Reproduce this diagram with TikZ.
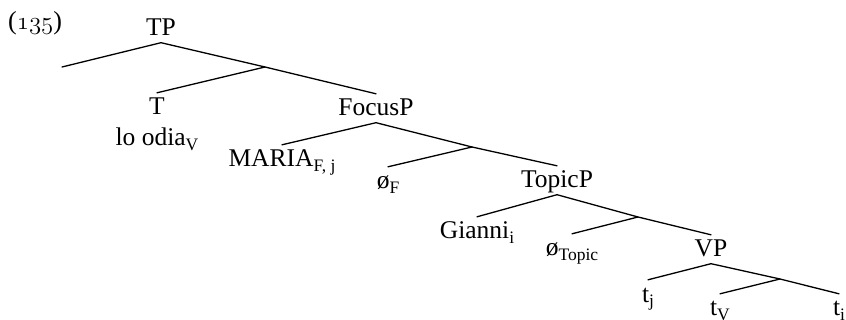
\documentclass[tikz,border=0pt]{standalone}
\usepackage{fontspec}
\setmainfont{Liberation Serif}
\newcommand\mysub[1]{\raisebox{-4.5pt}{\fontsize{17.5}{17.5}\selectfont #1}}
\newcommand\onums[1]{{\usefont{OML}{cmm}{m}{it}#1}}
\begin{document}
\begin{tikzpicture}[x=1pt,y=-1pt,
  every node/.style={font=\fontsize{25.5}{30}\selectfont},
  lbl/.style={anchor=base, inner xsep=1pt, inner ysep=6.5pt, text height=15.5pt, text depth=0pt},
  branch/.style={line width=1.3pt, line cap=round}]
\useasboundingbox (0,0) rectangle (846,320);
% example number
\node[anchor=base west, inner sep=0pt, font=\fontsize{26}{30}\selectfont] (ex) at (8,30) {(\onums{135})};
% nodes
\node[lbl] (TP) at (161,36) {TP};
\node[lbl] (T) at (157,115) {T};
\node[lbl] (odia) at (157,146) {lo odia\mysub{V}};
\node[lbl] (FocusP) at (376,116) {FocusP};
\node[lbl] (MARIA) at (282,167) {MARIA\mysub{F, j}};
\node[lbl] (oF) at (388,189) {ø\mysub{F}};
\node[lbl] (TopicP) at (557,188) {TopicP};
\node[lbl] (Gianni) at (477,239) {Gianni\mysub{i}};
\node[lbl] (oTopic) at (572,256) {ø\mysub{Topic}};
\node[lbl] (VP) at (711,257) {VP};
\node[lbl] (tj) at (648,302) {t\mysub{j}};
\node[lbl] (tV) at (720,316) {t\mysub{V}};
\node[lbl] (ti) at (839,316) {t\mysub{i}};
% junctions and empty leaf
\coordinate (E) at (62,67);
\coordinate (J1) at (265,67);
\coordinate (J2) at (472,147);
\coordinate (J3) at (638,217);
\coordinate (J4) at (780,279);
% branches
\draw[branch] (E) -- (TP.south) -- (J1) -- (FocusP.north);
\draw[branch] (J1) -- (T.north);
\draw[branch] (MARIA.north) -- (FocusP.south) -- (J2) -- (TopicP.north);
\draw[branch] (J2) -- (oF.north);
\draw[branch] (Gianni.north) -- (TopicP.south) -- (J3) -- (VP.north);
\draw[branch] (J3) -- (oTopic.north);
\draw[branch] (tj.north) -- (VP.south) -- (J4) -- (ti.north);
\draw[branch] (J4) -- (tV.north);
\end{tikzpicture}
\end{document}
